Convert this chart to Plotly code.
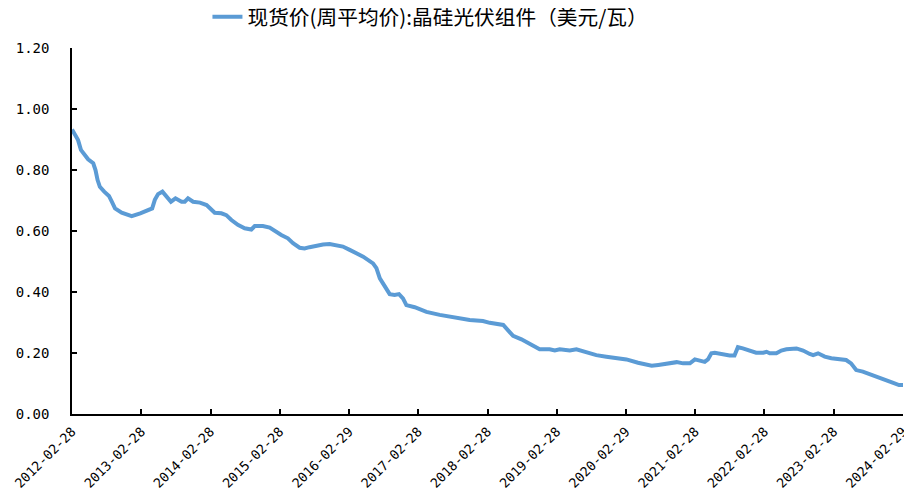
import plotly.graph_objects as go

dates = [
    "2012-02-28", "2012-03-14", "2012-03-31", "2012-04-15", "2012-05-06", "2012-05-23",
    "2012-06-19", "2012-07-01", "2012-07-12", "2012-07-24", "2012-08-16", "2012-09-10",
    "2012-09-25", "2012-10-12", "2012-11-16", "2013-01-08", "2013-02-22", "2013-03-27",
    "2013-04-26", "2013-05-10", "2013-05-27", "2013-06-19", "2013-07-10", "2013-08-03",
    "2013-08-27", "2013-09-28", "2013-10-15", "2013-11-01", "2013-11-28", "2014-01-03",
    "2014-02-07", "2014-03-22", "2014-04-26", "2014-05-22", "2014-06-18", "2014-07-22",
    "2014-08-27", "2014-10-01", "2014-10-19", "2014-12-01", "2015-01-06", "2015-02-02",
    "2015-03-08", "2015-04-12", "2015-05-09", "2015-06-13", "2015-07-09", "2015-08-04",
    "2015-09-09", "2015-10-14", "2015-11-18", "2015-12-23", "2016-01-27", "2016-03-03",
    "2016-04-16", "2016-05-13", "2016-07-04", "2016-07-22", "2016-08-09", "2016-09-04",
    "2016-09-30", "2016-10-26", "2016-11-18", "2016-12-09", "2016-12-27", "2017-02-09",
    "2017-04-12", "2017-06-21", "2017-08-30", "2017-11-26", "2018-02-04", "2018-03-12",
    "2018-05-22", "2018-06-17", "2018-07-13", "2018-08-26", "2018-09-30", "2018-11-13",
    "2018-11-30", "2019-01-22", "2019-02-18", "2019-03-16", "2019-05-08", "2019-06-12",
    "2019-08-03", "2019-09-25", "2019-11-17", "2020-01-08", "2020-03-02", "2020-05-02",
    "2020-07-13", "2020-08-17", "2020-09-30", "2020-10-26", "2020-11-22", "2020-12-26",
    "2021-01-31", "2021-02-26", "2021-03-24", "2021-04-19", "2021-05-06", "2021-05-24",
    "2021-06-11", "2021-07-15", "2021-08-28", "2021-09-23", "2021-10-11", "2021-11-06",
    "2021-12-11", "2022-01-15", "2022-02-22", "2022-03-11", "2022-03-28", "2022-05-02",
    "2022-05-28", "2022-06-24", "2022-08-16", "2022-09-20", "2022-10-25", "2022-11-12",
    "2022-12-08", "2023-01-12", "2023-02-16", "2023-03-31", "2023-05-05", "2023-05-31",
    "2023-06-27", "2023-08-01", "2023-09-22", "2023-11-13", "2024-01-05", "2024-02-08",
    "2024-02-29",
]

prices = [
    0.933, 0.915, 0.898, 0.866, 0.849, 0.835,
    0.822, 0.800, 0.767, 0.745, 0.729, 0.715,
    0.696, 0.674, 0.660, 0.649, 0.658, 0.667,
    0.674, 0.702, 0.721, 0.729, 0.715, 0.696,
    0.707, 0.696, 0.696, 0.707, 0.696, 0.693,
    0.685, 0.660, 0.658, 0.652, 0.636, 0.620,
    0.609, 0.605, 0.616, 0.616, 0.611, 0.600,
    0.587, 0.576, 0.560, 0.545, 0.543, 0.547,
    0.552, 0.556, 0.557, 0.552, 0.549, 0.538,
    0.525, 0.516, 0.494, 0.478, 0.445, 0.417,
    0.393, 0.390, 0.393, 0.379, 0.357, 0.350,
    0.335, 0.325, 0.317, 0.308, 0.305, 0.299,
    0.292, 0.275, 0.256, 0.245, 0.232, 0.215,
    0.212, 0.212, 0.208, 0.212, 0.208, 0.212,
    0.201, 0.193, 0.188, 0.183, 0.179, 0.168,
    0.158, 0.161, 0.166, 0.168, 0.170, 0.166,
    0.166, 0.179, 0.175, 0.171, 0.179, 0.199,
    0.201, 0.196, 0.192, 0.192, 0.219, 0.215,
    0.208, 0.201, 0.201, 0.204, 0.199, 0.199,
    0.208, 0.212, 0.215, 0.208, 0.197, 0.193,
    0.199, 0.188, 0.183, 0.179, 0.177, 0.166,
    0.144, 0.139, 0.128, 0.114, 0.103, 0.095,
    0.095,
]

tick_dates = [
    "2012-02-28", "2013-02-28", "2014-02-28", "2015-02-28", "2016-02-29", "2017-02-28",
    "2018-02-28", "2019-02-28", "2020-02-29", "2021-02-28", "2022-02-28", "2023-02-28",
    "2024-02-29",
]

y_ticks = [0, 0.2, 0.4, 0.6, 0.8, 1.0, 1.2]

series_name = "现货价(周平均价):晶硅光伏组件（美元/瓦）"

cjk_font = "Noto Sans CJK SC"
num_font = "DejaVu Sans Mono"

fig = go.Figure()
fig.add_trace(go.Scatter(
    x=dates, y=prices, mode="lines", name=series_name,
    line=dict(color="#5B9BD5", width=4),
))

# page body has an 8px default margin, so the figure is sized/offset to compensate
fig.update_layout(
    width=904, height=487,
    margin=dict(l=64, r=9, t=40, b=81, autoexpand=False),
    plot_bgcolor="white", paper_bgcolor="white",
    font=dict(family=cjk_font, size=13, color="#000000"),
    showlegend=True,
    legend=dict(
        x=0.163, xanchor="left",
        yref="container", y=0.982, yanchor="middle",
        orientation="h", font=dict(size=20.7, family=cjk_font),
        bgcolor="rgba(0,0,0,0)",
    ),
)

fig.update_xaxes(
    type="date", automargin=False,
    range=[tick_dates[0], tick_dates[-1]],
    tickvals=tick_dates, ticktext=tick_dates,
    tickangle=-45,
    showgrid=False, zeroline=False,
    showline=True, linecolor="#000000", linewidth=1.5,
    ticks="inside", ticklen=5, tickcolor="#000000", tickwidth=1.5,
    ticklabelstandoff=3,
    tickfont=dict(size=13.2, family=num_font),
)

fig.update_yaxes(
    automargin=False,
    range=[0, 1.2],
    tickvals=y_ticks,
    tickformat=".2f",
    showgrid=False, zeroline=False,
    showline=True, linecolor="#000000", linewidth=1.5,
    ticks="inside", ticklen=5, tickcolor="#000000", tickwidth=1.5,
    ticklabelstandoff=18,
    tickfont=dict(size=14, family=num_font),
)

fig.write_html("out.html")
